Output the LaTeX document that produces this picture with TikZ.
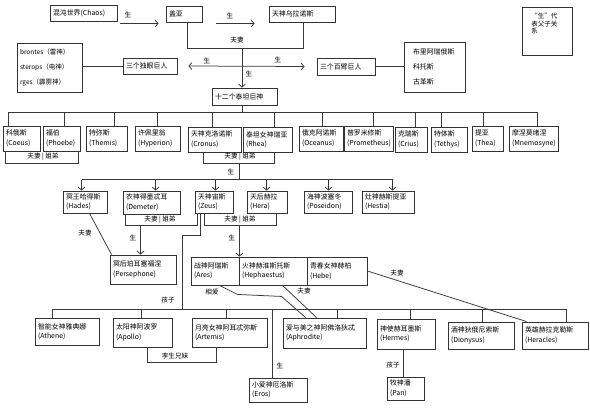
\documentclass[tikz,border=0pt]{standalone}
\usepackage{fontspec}
\setmainfont{Noto Sans CJK SC}
\usetikzlibrary{arrows.meta}
\newcommand\gnode[6]{%
 \pgfmathsetmacro\gw{#4-#2}\pgfmathsetmacro\gh{#5-#3}%
 \pgfmathsetmacro\gtw{#4-#2-6}\pgfmathsetmacro\gcx{(#2+#4)/2}\pgfmathsetmacro\gcy{(#3+#5)/2}%
 \node[gbox, minimum width=\gw pt, minimum height=\gh pt, text width=\gtw pt] (#1) at (\gcx,\gcy) {#6};}
\begin{document}
\begin{tikzpicture}[x=1pt,y=-1pt,
  gbox/.style={draw=black!80, line width=0.9pt, inner xsep=3pt, inner ysep=1pt, align=left,
    font=\fontsize{6.9}{9.5}\selectfont, text=black},
  lbl/.style={font=\fontsize{6.6}{7}\selectfont, inner sep=0.5pt, text=black},
  con/.style={draw=black!78, line width=0.75pt},
  arr/.style={con, -{Straight Barb[length=3pt,width=7pt]}},
  arrb/.style={con, {Straight Barb[length=3pt,width=7pt]}-{Straight Barb[length=3pt,width=7pt]}}]
\fill[white] (0,0) rectangle (590,420);
\useasboundingbox (0,0) rectangle (590,420);

% top generation
\gnode{chaos}{50}{5}{117}{21}{混沌世界(Chaos)}
\gnode{gaia}{166}{6}{202}{22}{盖亚}
\gnode{uranus}{269}{6}{335}{22}{天神乌拉诺斯}
\gnode{cyclops}{123}{58}{177}{74}{三个独眼巨人}
\gnode{hundred}{317}{58}{375}{75}{三个百臂巨人}
\node[gbox, minimum width=65pt, minimum height=49pt, text width=59pt, font=\fontsize{6.5}{15}\selectfont] (cyclist) at (49.5,67.5) {brontes（雷神）\\sterops（电神）\\rges（霹雳神）};
\node[gbox, minimum width=61pt, minimum height=50pt, text width=43pt, font=\fontsize{6.9}{15}\selectfont, inner xsep=9pt] (hundlist) at (434.5,67) {布里阿瑞俄斯\\科托斯\\古革斯};
\node[gbox, minimum width=50pt, minimum height=48pt] (legend) at (547,31) {};
\node[lbl, anchor=north west, align=left, font=\fontsize{6.5}{7.5}\selectfont] (legendtext) at ([xshift=9pt,yshift=-6pt]legend.north west) {“生”代\\表父子关\\系};
\gnode{titans}{212}{88}{277}{105}{十二个泰坦巨神}

\draw[arr] ([xshift=3pt,yshift=-2pt]chaos.south east) -- ([xshift=-7pt,yshift=-1pt]gaia.south west);
\draw[arr] ([xshift=14pt,yshift=-1pt]gaia.south east) -- ([xshift=-14pt,yshift=-1pt]uranus.south west);
\draw[con] ([xshift=22pt]gaia.south west) -- ++(0,26) -| ([xshift=35pt]uranus.south west);
\coordinate (m1) at (242,48);
\draw[arr] (m1) -- (m1 |- titans.north);
\draw[arrb] ([xshift=11pt]cyclops.east) -- ([xshift=-12pt]hundred.west);
\draw[con] (cyclops.west) -- (cyclops.west -| cyclist.east);
\draw[con] (hundred.east) -- (hundred.east -| hundlist.west);
\node[lbl] (l1) at (128,15) {生};
\node[lbl] (l2) at (230,16) {生};
\node[lbl] (l3) at (237,40) {夫妻};
\node[lbl] (l4) at (207,61) {生};
\node[lbl] (l5) at (278,60) {生};
\node[lbl] (l6) at (249,74) {生};

% titans
\gnode{coeus}{3}{126}{40}{151}{科俄斯\\(Coeus)}
\gnode{phoebe}{43}{126}{80}{151}{福伯\\(Phoebe)}
\gnode{themis}{86}{126}{127}{151}{特弥斯\\(Themis)}
\gnode{hyperion}{135}{126}{180}{151}{许佩里翁\\(Hyperion)}
\gnode{cronus}{188}{127}{241}{152}{天神克洛诺斯\\(Cronus)}
\gnode{rhea}{243}{127}{292}{152}{泰坦女神瑞亚\\(Rhea)}
\gnode{oceanus}{299}{126}{343}{151}{俄克阿诺斯\\(Oceanus)}
\gnode{prometheus}{344}{126}{393}{151}{普罗米修斯\\(Prometheus)}
\gnode{crius}{395}{127}{427}{152}{克瑞斯\\(Crius)}
\gnode{tethys}{431}{127}{467}{152}{特体斯\\(Tethys)}
\gnode{thea}{472}{126}{503}{151}{提亚\\(Thea)}
\gnode{mnemosyne}{509}{126}{558}{151}{摩涅莫绪涅\\(Mnemosyne)}

\draw[con] (m1 |- titans.south) -- ++(0,8);
\draw[con] ([xshift=6pt]coeus.north west) -- ++(0,-13) -| ([xshift=29pt]mnemosyne.north west);
\draw[con] ([xshift=22pt]phoebe.north west) -- ++(0,-13);
\draw[con] ([xshift=29pt]themis.north west) -- ++(0,-13);
\draw[con] ([xshift=23pt]hyperion.north west) -- ++(0,-13);
\draw[con] ([xshift=25pt]cronus.north west) -- ++(0,-14);
\draw[con] ([xshift=32pt]rhea.north west) -- ++(0,-14);
\draw[con] ([xshift=24pt]oceanus.north west) -- ++(0,-13);
\draw[con] ([xshift=30pt]prometheus.north west) -- ++(0,-13);
\draw[con] ([xshift=21pt]crius.north west) -- ++(0,-14);
\draw[con] ([xshift=11pt]tethys.north west) -- ++(0,-14);
\draw[con] ([xshift=12pt]thea.north west) -- ++(0,-13);

\draw[con] ([xshift=3pt]coeus.south west) -- ++(0,12) -| ([xshift=36pt]phoebe.south west);
\draw[con] ([xshift=16pt]cronus.south west) -- ++(0,11) -| ([xshift=32pt]rhea.south west);
\node[lbl] (l7) at (43,157) {夫妻 | 姐弟};
\node[lbl] (l8) at (240,157) {夫妻 | 姐弟};
\coordinate (m2) at (239,163);
\draw[con] (m2) -- ++(0,17);
\node[lbl] (l9) at (231,172) {生};

% olympians
\gnode{hades}{63}{191}{107}{213}{冥王哈得斯\\(Hades)}
\gnode{demeter}{123}{191}{180}{214}{农神得墨忒耳\\(Demeter)}
\gnode{zeus}{195}{191}{233}{213}{天神宙斯\\(Zeus)}
\gnode{hera}{247}{191}{287}{213}{天后赫拉\\(Hera)}
\gnode{poseidon}{304}{191}{352}{213}{海神波塞冬\\(Poseidon)}
\gnode{hestia}{362}{191}{414}{213}{灶神赫斯提亚\\(Hestia)}

\draw[con] ([xshift=19pt,yshift=11pt]hades.north west) -- ([xshift=31pt,yshift=11pt]hestia.north west);
\draw[arr] ([xshift=19pt,yshift=11pt]hades.north west) -- ([xshift=19pt]hades.north west);
\draw[arr] ([xshift=33pt,yshift=11pt]demeter.north west) -- ([xshift=33pt]demeter.north west);
\draw[arr] ([xshift=21pt,yshift=11pt]zeus.north west) -- ([xshift=21pt]zeus.north west);
\draw[arr] ([xshift=20pt,yshift=11pt]hera.north west) -- ([xshift=20pt]hera.north west);
\draw[arr] ([xshift=25pt,yshift=11pt]poseidon.north west) -- ([xshift=25pt]poseidon.north west);
\draw[arr] ([xshift=31pt,yshift=11pt]hestia.north west) -- ([xshift=31pt]hestia.north west);

\gnode{persephone}{110}{255}{176}{284}{冥后珀耳塞福涅\\(Persephone)}
\gnode{ares}{191}{257}{239}{285}{战神阿瑞斯\\(Ares)}
\gnode{hephaestus}{239}{257}{307}{285}{火神赫淮斯托斯\\(Hephaestus)}
\gnode{hebe}{307}{257}{367}{285}{青春女神赫柏\\(Hebe)}

\draw[con] ([xshift=3pt]demeter.south west) -- ++(0,11) -| ([xshift=3pt]zeus.south west);
\draw[con] ([xshift=10pt]zeus.south west) -- ++(0,12) -| ([xshift=30pt]hera.south west);
\node[lbl] (l10) at (160,220) {夫妻 | 姐弟};
\node[lbl] (l11) at (240,220) {夫妻 | 姐弟};
\draw[arr] ([xshift=31pt,yshift=30pt]persephone.north west) -- ([xshift=31pt]persephone.north west);
\draw[arr] ([yshift=32pt]ares.north east) -- (ares.north east);
\node[lbl] (l12) at (133,238) {生};
\node[lbl] (l13) at (232,238) {生};
\draw[con] ([xshift=27pt]hades.south west) -- ([xshift=2pt]persephone.north west);
\node[lbl] (l14) at (85,233) {夫妻};
\draw[con] ([xshift=6pt]zeus.south west) -- ++(0,22) -- ++(-18,0) -- ++(0,75);

% children of Zeus
\gnode{athene}{35}{318}{99}{345}{智能女神雅典娜\\(Athene)}
\gnode{apollo}{113}{318}{172}{347}{太阳神阿波罗\\(Apollo)}
\gnode{artemis}{192}{318}{267}{347}{月亮女神阿耳忒弥斯\\(Artemis)}
\gnode{aphrodite}{283}{318}{366}{348}{爱与美之神阿佛洛狄忒\\(Aphrodite)}
\gnode{hermes}{377}{319}{435}{349}{神使赫耳墨斯\\(Hermes)}
\gnode{dionysus}{448}{322}{514}{349}{酒神狄俄尼索斯\\(Dionysus)}
\gnode{heracles}{522}{322}{588}{349}{英雄赫拉克勒斯\\(Heracles)}
\gnode{eros}{249}{378}{307}{402}{小爱神厄洛斯\\(Eros)}
\gnode{pan}{387}{377}{424}{400}{牧神潘\\(Pan)}

\draw[con] ([xshift=18pt]athene.north west) -- ++(0,-8) -| ([xshift=45pt]heracles.north west);
\draw[con] ([xshift=29pt]apollo.north west) -- ++(0,-8);
\draw[con] ([xshift=35pt]artemis.north west) -- ++(0,-8);
\draw[con] ([xshift=55pt]aphrodite.north west) -- ++(0,-8);
\draw[con] ([xshift=34pt]hermes.north west) -- ++(0,-9);
\draw[con] ([xshift=35pt]dionysus.north west) -- ++(0,-12);
\node[lbl] (l15) at (168,300) {孩子};
\draw[con] ([xshift=35pt]apollo.south west) -- ++(0,15) -| ([xshift=25pt]artemis.south west);
\node[lbl] (l16) at (175,356) {孪生兄妹};
\draw[con] ([xshift=24pt]eros.north west) -- ++(0,-68);
\node[lbl] (l17) at (280,366) {生};
\draw[con] ([xshift=29pt]ares.south west) -- ++(18,9) -- ++(44,2) -- ([xshift=23pt]aphrodite.north west);
\node[lbl] (l18) at (212,292) {相爱};
\draw[con] ([xshift=44pt]hephaestus.south west) -- ([xshift=34pt]aphrodite.north west);
\node[lbl] (l19) at (304,291) {夫妻};
\draw[con] (hebe.east) -- ([xshift=5pt]heracles.north west);
\node[lbl] (l20) at (397,273) {夫妻};
\draw[con] ([xshift=27pt]hermes.south west) -- ([xshift=17pt]pan.north west);
\node[lbl] (l21) at (393,365) {孩子};
\end{tikzpicture}
\end{document}
